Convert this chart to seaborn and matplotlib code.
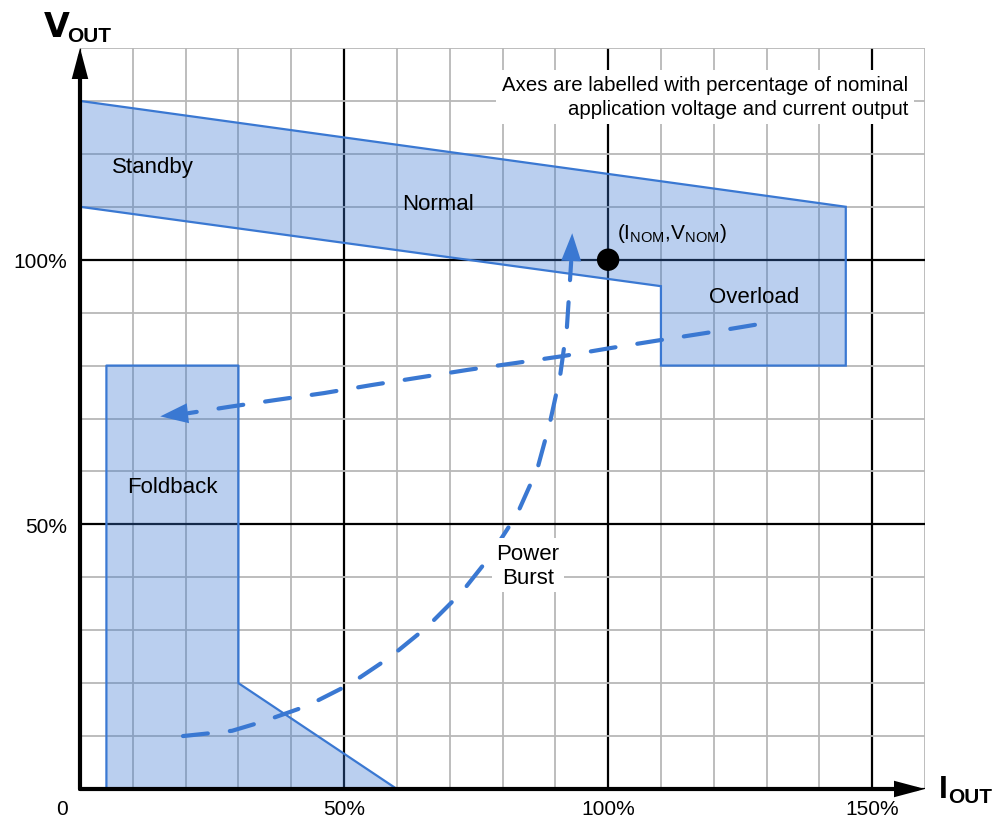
import numpy as np
import pandas as pd
import matplotlib
matplotlib.use("Agg")
import matplotlib.pyplot as plt
import seaborn as sns

# ---------------- data (percent of nominal) ----------------
normal_x = [0, 145, 145, 110, 110, 0]
normal_y = [130, 110, 80, 80, 95, 110]
fold_x = [5, 5, 30, 30, 60]
fold_y = [0, 80, 80, 20, 0]

overload_x = [127.8, 118.8, 109.8, 100.4, 91.5, 82.6, 73.5, 64.6, 55.1, 46.2, 37.1, 28.2, 20.5]
overload_y = [87.7, 86.2, 84.8, 83.3, 81.8, 80.5, 79.2, 77.8, 76.3, 74.8, 73.5, 72.2, 71.0]
overload_tip = (15.2, 70.4)

burst_x = [19.5, 25.2, 28.8, 34.5, 43.0, 51.1, 58.7, 65.7, 72.3, 77.3, 82.8, 86.6,
           89.0, 90.9, 92.2, 92.8, 93.0]
burst_y = [10.0, 10.6, 11.0, 12.7, 15.7, 19.8, 24.9, 30.6, 37.2, 43.5, 52.0, 60.5,
           69.3, 78.0, 87.3, 96.4, 99.6]
burst_tip = (93.2, 105.0)

nominal_x = [100]
nominal_y = [100]

x_tick_vals = [0, 50, 100, 150]
x_tick_labels = ["0", "50%", "100%", "150%"]
y_tick_vals = [50, 100]
y_tick_labels = ["50%", "100%"]

region_names = ["Standby", "Normal", "Overload", "Foldback"]
region_x = [6.0, 67.8, 127.6, 17.4]
region_y = [117.7, 110.7, 93.1, 57.2]
region_ha = ["left", "center", "center", "center"]

note_text = "Axes are labelled with percentage of nominal\napplication voltage and current output"

# ---------------- style ----------------
sns.set_theme(style="white", rc={"text.color": "black", "xtick.color": "black",
                                  "ytick.color": "black", "axes.labelcolor": "black"})
plt.rcParams["font.family"] = ["Liberation Sans", "DejaVu Sans"]
plt.rcParams["mathtext.fontset"] = "custom"
plt.rcParams["mathtext.rm"] = "Liberation Sans"
plt.rcParams["mathtext.it"] = "Liberation Sans"

BLUE = "#3a78d2"

W, H = 995, 820
fig = plt.figure(figsize=(W / 100, H / 100), dpi=100)
ax = fig.add_axes([80 / W, 30 / H, 845 / W, 741 / H])
ax.set_xlim(0, 160)
ax.set_ylim(0, 140)

# grid
ax.set_xticks(x_tick_vals)
ax.set_xticklabels([""] + x_tick_labels[1:])
ax.set_yticks([0] + y_tick_vals)
ax.set_yticklabels([""] + y_tick_labels)
ax.set_xticks(np.arange(0, 161, 10), minor=True)
ax.set_yticks(np.arange(0, 141, 10), minor=True)
ax.grid(which="minor", color="#b8b8b8", lw=1.3, zorder=0)
ax.grid(which="major", color="black", lw=1.6, zorder=0.5)
ax.set_axisbelow(True)
ax.tick_params(which="both", length=0)
ax.tick_params(axis="x", which="major", pad=7, labelsize=15)
ax.tick_params(axis="y", which="major", pad=9, labelsize=15)
for s in ax.spines.values():
    s.set_visible(False)

# origin label (same baseline as x tick labels, shifted left)
ax.annotate(x_tick_labels[0], xy=(0, 0), xytext=(-13, -7), textcoords="offset points",
            fontsize=15, ha="center", va="top", annotation_clip=False)

# regions
ax.fill(normal_x, normal_y, facecolor=BLUE, alpha=0.35, edgecolor="none", zorder=1)
ax.fill(normal_x, normal_y, facecolor="none", edgecolor=BLUE, lw=1.6, zorder=1.1)
ax.fill(fold_x, fold_y, facecolor=BLUE, alpha=0.35, edgecolor="none", zorder=1)
ax.plot(fold_x, fold_y, color=BLUE, lw=1.6, zorder=1.1)

# dashed trajectories
dash = (0, (6.0, 5.3))
for xs, ys in [(overload_x, overload_y), (burst_x, burst_y)]:
    sns.lineplot(x=xs, y=ys, sort=False, estimator=None, ax=ax, color=BLUE, lw=3,
                 linestyle=dash, dash_capstyle="round", zorder=3)

astyle = "-|>,head_length=1.0,head_width=0.36"
for tip, xs, ys in [(overload_tip, overload_x, overload_y), (burst_tip, burst_x, burst_y)]:
    ax.annotate("", xy=tip, xytext=(xs[-1], ys[-1]),
                arrowprops=dict(arrowstyle=astyle, color=BLUE, lw=0, shrinkA=0, shrinkB=0,
                                mutation_scale=20), zorder=4)

# nominal point
sns.scatterplot(x=nominal_x, y=nominal_y, ax=ax, color="black", s=260,
                edgecolor="none", zorder=5)
ax.text(101.7, 105.2, r"$\mathregular{(I_{NOM}{,}V_{NOM})}$", fontsize=15,
        ha="left", va="center", zorder=6)

# labels
for name, x, y, ha in zip(region_names, region_x, region_y, region_ha):
    ax.text(x, y, name, fontsize=16, ha=ha, va="center", zorder=6)

ax.text(84.8, 42.3, "Power\nBurst", fontsize=16, ha="center", va="center",
        linespacing=1.2, zorder=6,
        bbox=dict(facecolor="white", edgecolor="none", pad=3))

ax.text(156.8, 130.8, note_text, fontsize=14.7, ha="right", va="center",
        multialignment="right", linespacing=1.32, zorder=6,
        bbox=dict(facecolor="white", edgecolor="none", pad=4))

# axes arrows
arrow_kw = dict(arrowstyle="-|>,head_length=0.75,head_width=0.2", color="black",
                lw=3, shrinkA=0, shrinkB=0, mutation_scale=20, joinstyle="miter")
ax.annotate("", xy=(0, 1.0), xytext=(0, 0), xycoords="axes fraction",
            textcoords="axes fraction", arrowprops=arrow_kw, annotation_clip=False, zorder=7)
ax.annotate("", xy=(1.0, 0), xytext=(0, 0), xycoords="axes fraction",
            textcoords="axes fraction", arrowprops=arrow_kw, annotation_clip=False, zorder=7)

# axis titles
fig.text(44 / W, 1 - 37 / H, "V", fontsize=24, fontweight="bold", ha="left", va="baseline",
         family=["DejaVu Sans"])
fig.text(67 / W, 1 - 42 / H, "OUT", fontsize=15, fontweight="bold", ha="left", va="baseline")
fig.text(939 / W, 1 - 798 / H, "I", fontsize=23, fontweight="bold", ha="left", va="baseline")
fig.text(948 / W, 1 - 803 / H, "OUT", fontsize=15, fontweight="bold", ha="left", va="baseline")

fig.savefig("out.png", dpi=100)
